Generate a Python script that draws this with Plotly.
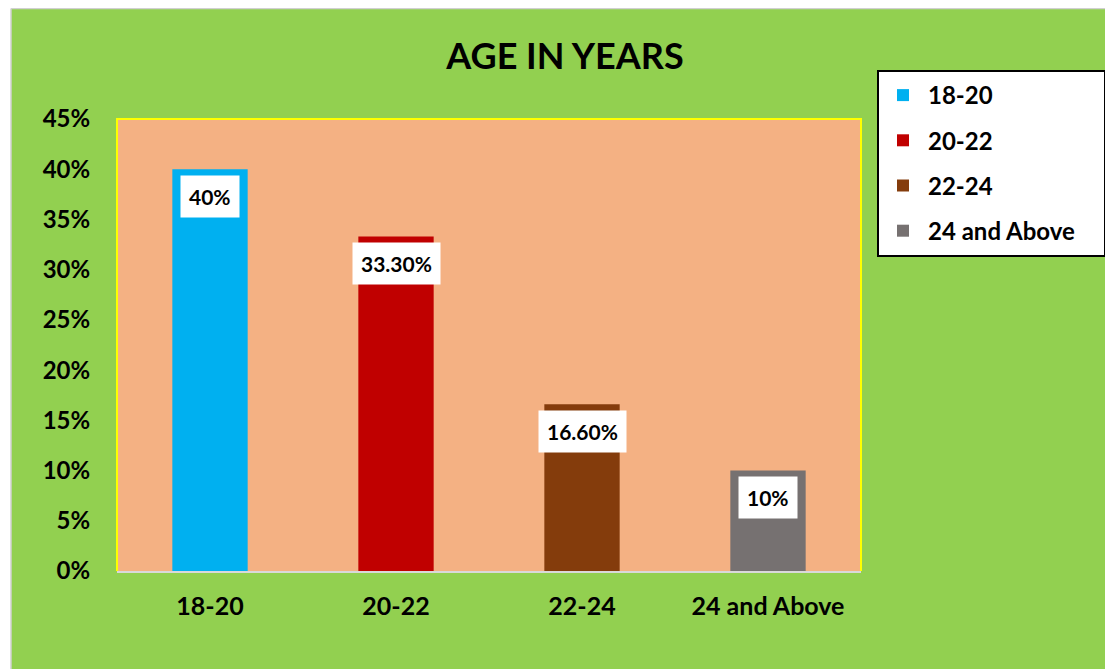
import plotly.graph_objects as go

categories = ["18-20", "20-22", "22-24", "24 and Above"]
values = [0.40, 0.333, 0.166, 0.10]
labels = ["40%", "33.30%", "16.60%", "10%"]
colors = ["#00B0F0", "#C00000", "#843C0C", "#767171"]
title_text = "AGE IN YEARS"

# the page body has an 8px margin, so the figure sits at (8, 8) in the window
OFF = 8
W, H = 1113 - OFF, 669 - OFF
L, R, T, B = 117 - OFF, 861 - OFF, 119 - OFF, 571 - OFF

FONT = "Lato"

fig = go.Figure()
for cat, val, col in zip(categories, values, colors):
    fig.add_trace(go.Bar(
        x=[cat], y=[val], name=cat, marker=dict(color=col, line=dict(width=0)),
        width=0.405, legendgroup=cat, hoverinfo="skip",
    ))

for cat, val, lab in zip(categories, values, labels):
    fig.add_annotation(
        x=cat, y=val, text=lab, showarrow=False, yanchor="middle", yshift=-27,
        bgcolor="white", borderpad=8,
        font=dict(family=FONT, size=21, color="black", weight="bold"),
    )

def px_x(p):
    return (p - OFF - L) / (R - L)

def px_y(p):
    return (B - (p - OFF)) / (B - T)

# white strip at left and thin gray frame (screenshot edge)
fig.add_shape(type="rect", xref="paper", yref="paper", x0=px_x(0), x1=px_x(11), y0=px_y(700), y1=px_y(0),
              fillcolor="white", line=dict(width=0), layer="below")
fig.add_shape(type="line", xref="paper", yref="paper", x0=px_x(11), x1=px_x(11), y0=px_y(700), y1=px_y(8.5),
              line=dict(color="#D0D0D0", width=1.5), layer="below")
fig.add_shape(type="line", xref="paper", yref="paper", x0=px_x(11), x1=px_x(1200), y0=px_y(8.5), y1=px_y(8.5),
              line=dict(color="#D0D0D0", width=1.5), layer="below")
# yellow plot-area border (left, top, right)
fig.add_shape(type="path", xref="paper", yref="paper", path="M0,0 L0,1 L1,1 L1,0",
              line=dict(color="#FFFF00", width=2), fillcolor="rgba(0,0,0,0)", layer="above")
# legend frame
fig.add_shape(type="rect", xref="paper", yref="paper", x0=px_x(878), x1=px_x(1105), y0=px_y(256), y1=px_y(71),
              line=dict(color="black", width=2), fillcolor="white", layer="above")

fig.update_layout(
    width=W, height=H,
    margin=dict(l=L, r=W - R, t=T, b=H - B, autoexpand=False),
    paper_bgcolor="#92D050",
    plot_bgcolor="#F4B183",
    barmode="overlay",
    title=dict(text=title_text, x=(565 - OFF) / W, xanchor="center", y=1 - (56 - OFF) / H, yanchor="middle",
               font=dict(family=FONT, size=36, color="black", weight="bold")),
    showlegend=True,
    legend=dict(
        x=px_x(878), y=px_y(73), xanchor="left", yanchor="top",
        bgcolor="rgba(0,0,0,0)", borderwidth=0,
        font=dict(family=FONT, size=24, color="black", weight="bold"),
        traceorder="grouped", tracegroupgap=11,
        itemwidth=40,
    ),
    xaxis=dict(
        showgrid=False, zeroline=False, showline=True, linecolor="#D9D9D9", linewidth=2,
        ticks="outside", ticklen=12, tickcolor="rgba(0,0,0,0)",
        tickfont=dict(family=FONT, size=25, color="black", weight="bold"),
        fixedrange=True,
    ),
    yaxis=dict(
        range=[0, 0.45], dtick=0.05, tickformat=".0%", showgrid=False, zeroline=False,
        showline=False, ticks="outside", ticklen=21, tickcolor="rgba(0,0,0,0)",
        tickfont=dict(family=FONT, size=24, color="black", weight="bold"),
        fixedrange=True,
    ),
)

fig.write_html("out.html")
